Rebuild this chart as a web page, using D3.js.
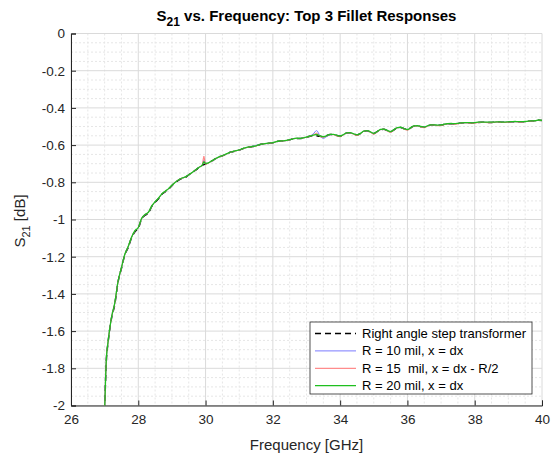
<!DOCTYPE html>
<html><head><meta charset="utf-8">
<script src="https://cdn.jsdelivr.net/npm/d3@7"></script>
<style>
body{margin:0;background:#fff;}
text{font-family:"Liberation Sans",Arial,Helvetica,sans-serif;}
</style></head>
<body>
<svg id="chart" width="557" height="454"></svg>
<script>
// ---------------- DATA ----------------
const freq = [27.0,27.05,27.1,27.2,27.3,27.4,27.5,27.6,27.7,27.8,27.9,
28.0,28.1,28.2,28.3,28.4,28.5,28.6,28.7,28.8,28.9,
29.0,29.1,29.2,29.3,29.4,29.5,29.6,29.7,29.8,29.9,29.95,
30.0,30.1,30.2,30.3,30.4,30.5,30.6,30.7,30.8,30.9,
31.0,31.1,31.2,31.3,31.4,31.5,31.6,31.7,31.8,31.9,
32.0,32.1,32.2,32.3,32.4,32.5,32.6,32.7,32.8,32.9,
33.0,33.1,33.2,33.3,33.4,33.5,33.6,33.7,33.8,33.9,
34.0,34.1,34.2,34.3,34.4,34.5,34.6,34.7,34.8,34.9,
35.0,35.1,35.2,35.3,35.4,35.5,35.6,35.7,35.8,35.9,
36.0,36.1,36.2,36.3,36.4,36.5,36.6,36.7,36.8,36.9,
37.0,37.1,37.2,37.3,37.4,37.5,37.6,37.7,37.8,37.9,
38.0,38.1,38.2,38.3,38.4,38.5,38.6,38.7,38.8,38.9,
39.0,39.1,39.2,39.3,39.4,39.5,39.6,39.7,39.8,39.9,40.0];

const rightAngle = [-2.03,-1.76,-1.665,-1.535,-1.458,-1.335,-1.262,-1.19,-1.15,-1.098,-1.066,
-1.048,-0.996,-0.977,-0.966,-0.93,-0.907,-0.889,-0.864,-0.851,-0.837,
-0.818,-0.801,-0.788,-0.779,-0.773,-0.76,-0.748,-0.735,-0.721,-0.709,-0.705,
-0.701,-0.695,-0.684,-0.673,-0.664,-0.658,-0.65,-0.641,-0.636,-0.631,
-0.627,-0.62,-0.614,-0.611,-0.608,-0.605,-0.598,-0.594,-0.592,-0.59,
-0.588,-0.582,-0.578,-0.578,-0.576,-0.572,-0.566,-0.564,-0.565,-0.562,
-0.558,-0.552,-0.548,-0.55,-0.553,-0.556,-0.55,-0.543,-0.543,-0.548,
-0.552,-0.544,-0.535,-0.534,-0.54,-0.546,-0.538,-0.526,-0.523,-0.53,
-0.538,-0.528,-0.517,-0.515,-0.522,-0.529,-0.518,-0.507,-0.505,-0.512,
-0.517,-0.507,-0.498,-0.497,-0.501,-0.504,-0.497,-0.492,-0.492,-0.494,
-0.493,-0.488,-0.486,-0.485,-0.486,-0.484,-0.481,-0.48,-0.48,-0.481,
-0.48,-0.478,-0.477,-0.477,-0.478,-0.478,-0.477,-0.476,-0.477,-0.477,
-0.476,-0.475,-0.474,-0.475,-0.475,-0.474,-0.472,-0.471,-0.47,-0.466,-0.468];

const r10 = [-2.03,-1.755,-1.662,-1.532,-1.452,-1.333,-1.26,-1.188,-1.146,-1.096,-1.062,
-1.044,-0.995,-0.974,-0.962,-0.929,-0.905,-0.887,-0.863,-0.849,-0.835,
-0.817,-0.8,-0.786,-0.778,-0.772,-0.76,-0.748,-0.735,-0.72,-0.709,-0.682,
-0.7,-0.694,-0.684,-0.673,-0.664,-0.657,-0.65,-0.641,-0.636,-0.631,
-0.627,-0.62,-0.614,-0.611,-0.606,-0.601,-0.598,-0.594,-0.592,-0.59,
-0.588,-0.582,-0.578,-0.578,-0.576,-0.572,-0.566,-0.564,-0.565,-0.562,
-0.558,-0.551,-0.54,-0.522,-0.55,-0.564,-0.554,-0.544,-0.543,-0.548,
-0.552,-0.544,-0.535,-0.534,-0.54,-0.546,-0.538,-0.526,-0.523,-0.53,
-0.538,-0.528,-0.517,-0.515,-0.522,-0.529,-0.518,-0.507,-0.505,-0.512,
-0.517,-0.507,-0.498,-0.497,-0.501,-0.504,-0.497,-0.492,-0.492,-0.494,
-0.493,-0.488,-0.486,-0.485,-0.486,-0.484,-0.481,-0.48,-0.48,-0.481,
-0.48,-0.478,-0.477,-0.477,-0.478,-0.478,-0.477,-0.476,-0.477,-0.477,
-0.476,-0.475,-0.474,-0.475,-0.475,-0.474,-0.472,-0.471,-0.47,-0.466,-0.468];

const r15 = [-2.03,-1.755,-1.662,-1.532,-1.452,-1.333,-1.26,-1.188,-1.146,-1.096,-1.062,
-1.044,-0.995,-0.974,-0.962,-0.929,-0.905,-0.887,-0.863,-0.849,-0.835,
-0.817,-0.8,-0.786,-0.778,-0.772,-0.76,-0.748,-0.735,-0.72,-0.709,-0.66,
-0.703,-0.695,-0.684,-0.673,-0.664,-0.658,-0.65,-0.641,-0.636,-0.631,
-0.627,-0.62,-0.614,-0.611,-0.608,-0.605,-0.598,-0.594,-0.592,-0.59,
-0.588,-0.582,-0.578,-0.578,-0.576,-0.572,-0.566,-0.564,-0.565,-0.562,
-0.558,-0.552,-0.546,-0.536,-0.553,-0.558,-0.551,-0.543,-0.544,-0.55,
-0.555,-0.545,-0.535,-0.534,-0.542,-0.549,-0.539,-0.526,-0.523,-0.532,
-0.541,-0.529,-0.517,-0.515,-0.524,-0.532,-0.519,-0.507,-0.505,-0.514,
-0.52,-0.508,-0.498,-0.497,-0.503,-0.507,-0.498,-0.492,-0.492,-0.496,
-0.495,-0.489,-0.486,-0.485,-0.488,-0.486,-0.481,-0.48,-0.481,-0.483,
-0.482,-0.479,-0.477,-0.478,-0.48,-0.479,-0.477,-0.476,-0.478,-0.478,
-0.477,-0.475,-0.474,-0.476,-0.476,-0.474,-0.472,-0.471,-0.47,-0.466,-0.468];

const r20 = [-2.03,-1.752,-1.66,-1.53,-1.45,-1.332,-1.258,-1.187,-1.145,-1.095,-1.06,
-1.043,-0.994,-0.973,-0.961,-0.928,-0.904,-0.886,-0.862,-0.848,-0.834,
-0.816,-0.8,-0.786,-0.777,-0.771,-0.759,-0.747,-0.734,-0.72,-0.708,-0.69,
-0.699,-0.694,-0.683,-0.672,-0.663,-0.657,-0.649,-0.641,-0.635,-0.63,
-0.626,-0.619,-0.614,-0.61,-0.607,-0.604,-0.597,-0.594,-0.591,-0.589,
-0.587,-0.581,-0.578,-0.577,-0.575,-0.571,-0.566,-0.563,-0.564,-0.561,
-0.557,-0.551,-0.547,-0.542,-0.551,-0.555,-0.549,-0.542,-0.542,-0.547,
-0.551,-0.543,-0.534,-0.533,-0.539,-0.545,-0.537,-0.525,-0.522,-0.529,
-0.537,-0.527,-0.516,-0.514,-0.521,-0.528,-0.517,-0.506,-0.504,-0.511,
-0.516,-0.506,-0.497,-0.496,-0.5,-0.503,-0.496,-0.491,-0.491,-0.493,
-0.492,-0.487,-0.485,-0.484,-0.485,-0.483,-0.48,-0.479,-0.479,-0.48,
-0.479,-0.477,-0.476,-0.476,-0.477,-0.477,-0.476,-0.475,-0.476,-0.476,
-0.475,-0.474,-0.473,-0.474,-0.474,-0.473,-0.471,-0.47,-0.469,-0.465,-0.467];

const xTicks = [26,28,30,32,34,36,38,40];
const yTicks = [0,-0.2,-0.4,-0.6,-0.8,-1,-1.2,-1.4,-1.6,-1.8,-2];
const seriesNames = ["Right angle step transformer","R = 10 mil, x = dx","R = 15  mil, x = dx - R/2","R = 20 mil, x = dx"];
const seriesValues = [rightAngle, r10, r15, r20];
const seriesColors = ["#000000","#7b7bff","#ff7070","#1fbf1f"];

// ---------------- LAYOUT ----------------
const W = 557, H = 454;
const m = {left:71, right:15, top:33.5, bottom:48.5};
const iw = W - m.left - m.right, ih = H - m.top - m.bottom;
const svg = d3.select("#chart");
const x = d3.scaleLinear().domain([26,40]).range([m.left, m.left+iw]);
const y = d3.scaleLinear().domain([-2,0]).range([m.top+ih, m.top]);

// grid
const g = svg.append("g");
const minorX = d3.range(26, 40.001, 0.5).filter(v => Math.abs(v/2 - Math.round(v/2)) > 1e-6);
const minorY = d3.range(-2, 0.0001, 0.05).filter(v => Math.abs(v/0.2 - Math.round(v/0.2)) > 1e-6);
g.selectAll(".mx").data(minorX).join("line")
  .attr("x1", d=>x(d)).attr("x2", d=>x(d)).attr("y1", m.top).attr("y2", m.top+ih)
  .attr("stroke","#e6e6e6").attr("stroke-width",1).attr("stroke-dasharray","2,2");
g.selectAll(".my").data(minorY).join("line")
  .attr("y1", d=>y(d)).attr("y2", d=>y(d)).attr("x1", m.left).attr("x2", m.left+iw)
  .attr("stroke","#e6e6e6").attr("stroke-width",1).attr("stroke-dasharray","2,2");
g.selectAll(".Mx").data(xTicks).join("line")
  .attr("x1", d=>x(d)).attr("x2", d=>x(d)).attr("y1", m.top).attr("y2", m.top+ih)
  .attr("stroke","#dadada").attr("stroke-width",1);
g.selectAll(".My").data(yTicks).join("line")
  .attr("y1", d=>y(d)).attr("y2", d=>y(d)).attr("x1", m.left).attr("x2", m.left+iw)
  .attr("stroke","#dadada").attr("stroke-width",1);

// axes
const fmt = d => d === 0 ? "0" : String(+d.toFixed(1));
const xAxis = svg.append("g").attr("transform",`translate(0,${m.top+ih})`)
  .call(d3.axisBottom(x).tickValues(xTicks).tickSize(-5).tickPadding(9).tickFormat(d=>String(d)));
const yAxis = svg.append("g").attr("transform",`translate(${m.left},0)`)
  .call(d3.axisLeft(y).tickValues(yTicks).tickSize(-5).tickPadding(6).tickFormat(fmt));
[xAxis,yAxis].forEach(a=>{
  a.select(".domain").attr("stroke","#262626").attr("stroke-width",1);
  a.selectAll(".tick line").attr("stroke","#262626");
  a.selectAll(".tick text").attr("fill","#262626").style("font-size","13.5px");
});

// clip
svg.append("clipPath").attr("id","clip").append("rect")
  .attr("x",m.left).attr("y",m.top).attr("width",iw).attr("height",ih);

const line = d3.line().x((d,i)=>x(freq[i])).y(d=>y(d)).curve(d3.curveMonotoneX);
const plot = svg.append("g").attr("clip-path","url(#clip)");
const widths = [1.5,1,1,1.3];
seriesValues.forEach((vals,k)=>{
  plot.append("path").datum(vals).attr("d",line).attr("fill","none")
    .attr("stroke",seriesColors[k]).attr("stroke-width",widths[k])
    .attr("stroke-dasharray", k===0 ? "6,4" : null);
});

// title
const title = svg.append("text").attr("x", m.left+iw/2).attr("y",21)
  .attr("text-anchor","middle").attr("font-weight","bold").style("font-size","15px").attr("fill","#000");
title.append("tspan").text("S");
title.append("tspan").text("21").attr("dy",5).style("font-size","12px");
title.append("tspan").text(" vs. Frequency: Top 3 Fillet Responses").attr("dy",-5);

// x label
svg.append("text").attr("x", m.left+iw/2).attr("y",450).attr("text-anchor","middle")
  .style("font-size","15px").attr("fill","#262626").text("Frequency [GHz]");
// y label
const yl = svg.append("text").attr("transform","translate(25,221) rotate(-90)")
  .attr("text-anchor","middle").style("font-size","15px").attr("fill","#262626");
yl.append("tspan").text("S");
yl.append("tspan").text("21").attr("dy",5).style("font-size","11px");
yl.append("tspan").text(" [dB]").attr("dy",-5);

// legend
const lg = svg.append("g");
const lx = 310, ly = 322, lw = 222, lh = 72;
lg.append("rect").attr("x",lx).attr("y",ly).attr("width",lw).attr("height",lh)
  .attr("fill","#fff").attr("stroke","#262626").attr("stroke-width",0.8);
seriesNames.forEach((name,k)=>{
  const cy = ly + 11.5 + k*17.4;
  lg.append("line").attr("x1",lx+5).attr("x2",lx+46).attr("y1",cy).attr("y2",cy)
    .attr("stroke",seriesColors[k]).attr("stroke-width",widths[k])
    .attr("stroke-dasharray", k===0 ? "6,4" : null);
  lg.append("text").attr("x",lx+52).attr("y",cy+4.5).style("font-size","13px")
    .style("white-space","pre").attr("fill","#000").text(name);
});
</script>
</body></html>
